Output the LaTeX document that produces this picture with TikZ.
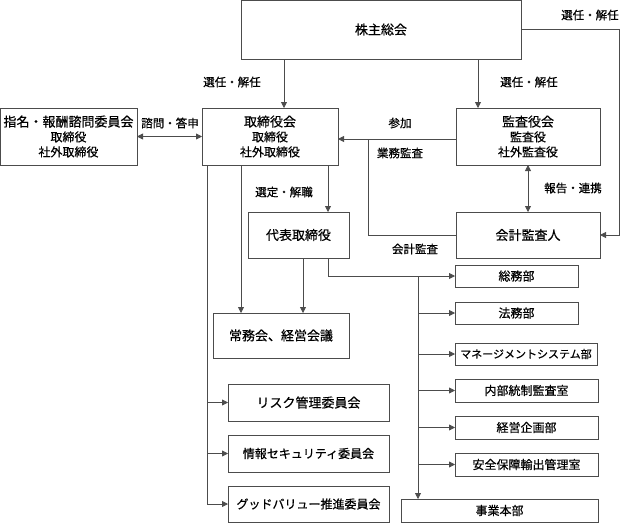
\documentclass[tikz,border=0pt]{standalone}
\usepackage{fontspec}
\setmainfont{Noto Sans CJK JP}[BoldFont={Noto Sans CJK JP},BoldFeatures={FakeBold=0.6}]
\usetikzlibrary{arrows.meta}

\begin{document}
\begin{tikzpicture}[x=1pt,y=-1pt,
  box/.style={draw=black!70,line width=0.8pt,inner sep=0pt,outer sep=0pt,align=center,font=\fontsize{12}{15}\selectfont\bfseries},
  big/.style={font=\fontsize{13}{15}\selectfont\bfseries},
  lbl/.style={font=\fontsize{11.5}{14}\selectfont\bfseries},
  ln/.style={draw=black!70,line width=0.8pt},
  arr/.style={ln,-{Triangle[length=6pt,width=6pt]}},
  dbl/.style={ln,{Triangle[length=6pt,width=6pt]}-{Triangle[length=6pt,width=6pt]}}]
\useasboundingbox (0,0) rectangle (621,523);
\node[box,big,minimum width=280pt,minimum height=59pt] (soukai) at (381,29.5) {株主総会};
\node[box,minimum width=137pt,minimum height=57pt] (shimei) at (68.5,136.5) {{\fontsize{13}{15}\selectfont 指名・報酬諮問委員会}\\取締役\\社外取締役};
\node[box,minimum width=136pt,minimum height=57pt] (torishimari) at (270,136.5) {{\fontsize{13}{15}\selectfont 取締役会}\\取締役\\社外取締役};
\node[box,minimum width=144pt,minimum height=57pt] (kansa) at (528,136.5) {{\fontsize{13}{15}\selectfont 監査役会}\\監査役\\社外監査役};
\node[box,big,minimum width=101pt,minimum height=46pt] (daihyo) at (298.5,235) {代表取締役};
\node[box,big,minimum width=144pt,minimum height=46pt] (kaikei) at (528,235) {会計監査人};
\node[box,big,minimum width=136pt,minimum height=45pt] (joumu) at (281,335.5) {常務会、経営会議};
\node[box,big,minimum width=161pt,minimum height=37pt] (risk) at (308.5,402.5) {リスク管理委員会};
\node[box,minimum width=161pt,minimum height=37pt] (joho) at (308.5,453.5) {情報セキュリティ委員会};
\node[box,minimum width=161pt,minimum height=36pt] (good) at (308.5,504) {グッドバリュー推進委員会};
\node[box,minimum width=123pt,minimum height=22pt] (soumu) at (516.5,276) {総務部};
\node[box,minimum width=123pt,minimum height=22pt] (houmu) at (516.5,313) {法務部};
\node[box,minimum width=142pt,minimum height=22pt,font=\fontsize{11}{13}\selectfont\bfseries] (mgmt) at (526,354) {マネージメントシステム部};
\node[box,minimum width=143pt,minimum height=23pt] (naibu) at (526.5,390.5) {内部統制監査室};
\node[box,minimum width=143pt,minimum height=23pt] (keiei) at (526.5,427.5) {経営企画部};
\node[box,minimum width=143pt,minimum height=23pt] (anzen) at (526.5,464.5) {安全保障輸出管理室};
\node[box,minimum width=197pt,minimum height=23pt] (jigyo) at (499.5,510.5) {事業本部};
\coordinate (trunk) at ([xshift=-81.5pt]jigyo.north);
\coordinate (left) at ([xshift=-63pt]torishimari.south);
\draw[arr] ([xshift=14pt]torishimari.north |- soukai.south) -- ([xshift=14pt]torishimari.north);
\draw[arr] ([xshift=-50pt]kansa.north |- soukai.south) -- ([xshift=-50pt]kansa.north);
\draw[arr] (soukai.east) -- ++(98,0) |- (kaikei.east);
\draw[dbl] (shimei.east) -- (torishimari.west);
\draw[arr] ([yshift=-2.5pt]kansa.west) -- ([yshift=-2.5pt]torishimari.east);
\draw[ln] (kaikei.west) -| ([xshift=30pt,yshift=-2.5pt]torishimari.east);
\draw[dbl] (kansa.south) -- (kaikei.north);
\draw[arr] ([xshift=29.5pt]daihyo.north |- torishimari.south) -- ([xshift=29.5pt]daihyo.north);
\draw[arr] ([xshift=-40pt]joumu.north |- torishimari.south) -- ([xshift=-40pt]joumu.north);
\draw[arr] ([xshift=4.5pt]daihyo.south) -- ([xshift=22pt]joumu.north);
\draw[arr] ([xshift=29.5pt]daihyo.south) |- (soumu.west);
\draw[arr] (trunk |- soumu.west) -- (trunk);
\draw[arr] (trunk |- houmu.west) -- (houmu.west);
\draw[arr] (trunk |- mgmt.west) -- (mgmt.west);
\draw[arr] (trunk |- naibu.west) -- (naibu.west);
\draw[arr] (trunk |- keiei.west) -- (keiei.west);
\draw[arr] (trunk |- anzen.west) -- (anzen.west);
\draw[arr] (left) |- (good.west);
\draw[arr] (left |- risk.west) -- (risk.west);
\draw[arr] (left |- joho.west) -- (joho.west);
\node[lbl] (l1) at (590,15) {選任・解任};
\node[lbl] (l2) at (232,82) {選任・解任};
\node[lbl] (l3) at (529,82) {選任・解任};
\node[lbl] (l4) at (170,123) {諮問・答申};
\node[lbl] (l5) at (400,123) {参加};
\node[lbl] (l6) at (400,153) {業務監査};
\node[lbl] (l7) at (573,188) {報告・連携};
\node[lbl] (l8) at (284,192) {選定・解職};
\node[lbl] (l9) at (415,249) {会計監査};
\end{tikzpicture}
\end{document}
